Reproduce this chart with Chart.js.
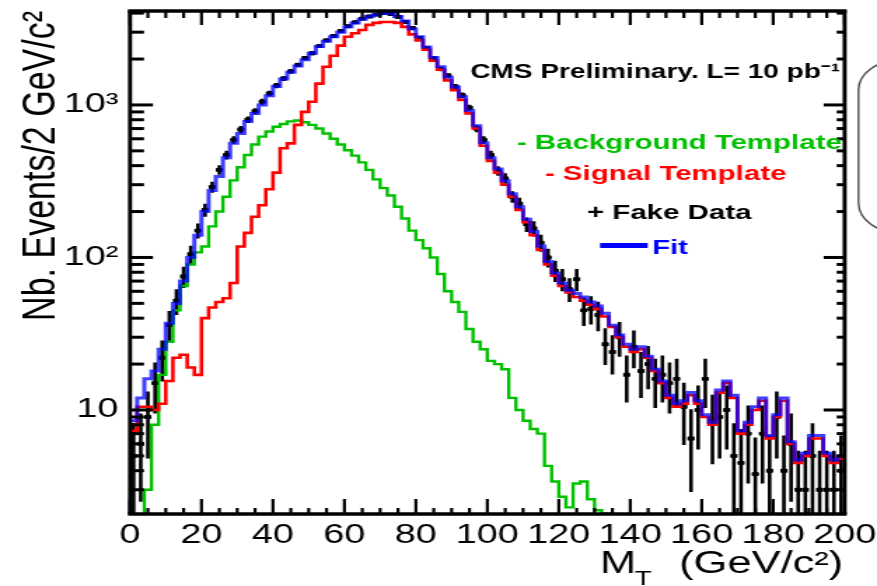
<!DOCTYPE html>
<html>
<head>
<meta charset="utf-8">
<script src="https://cdn.jsdelivr.net/npm/chart.js@4.4.0/dist/chart.umd.min.js"></script>
<style>
  html, body { margin: 0; padding: 0; background: #fff; overflow: hidden; }
  /* the original plot is stretched sideways, so draw narrow and widen */
  #wrap { width: 626px; height: 586px; transform: scaleX(1.40096); transform-origin: 0 0; }
</style>
</head>
<body>
<div id="wrap"><canvas id="mt"></canvas></div>
<script>
const binWidth = 2;
const mtRange = [0, 200];
const xTickStep = 20;
const xMinorStep = 5;
const yRange = [2.08, 4130];
const yTickText = { 10: '10', 100: '10²', 1000: '10³' };

// background template (green), one value per 2 GeV bin
const bkgTemplate = [
  1, 1, 3, 8, 17, 28, 45, 65, 90, 108,
  118, 160, 200, 250, 320, 390, 470, 550, 620, 670,
  720, 750, 780, 790, 770, 740, 700, 650, 600, 550,
  505, 465, 420, 375, 325, 285, 255, 215, 180, 150,
  130, 115, 100, 78, 60, 51, 44, 34, 28, 25,
  21, 20, 18.5, 12, 10, 8.5, 7.5, 7, 4.3, 3.4,
  2.7, 2.3, 3.3, 3.4, 2.6, 2.2, 2.1, 1, null, null,
  null, null, null, null, null, null, null, null, null, null,
  null, null, null, null, null, null, null, null, null, null,
  null, null, null, null, null, null, null, null, null, null
];

// signal template (red)
const sigTemplate = [
  7.3, 10.5, 10.5, 10, 11, 15.5, 22, 23, 19, 17,
  40, 47, 51, 54, 68, 118, 145, 185, 220, 280,
  360, 520, 560, 740, 900, 1050, 1380, 1780, 2100, 2450,
  2800, 2950, 3100, 3350, 3450, 3500, 3500, 3450, 3250, 2900,
  2650, 2300, 1950, 1700, 1450, 1250, 1080, 880, 700, 540,
  430, 360, 300, 250, 205, 170, 140, 112, 90, 76,
  65, 59, 55, 52, 49, 46, 41, 35, 30, 26,
  24, 25, 22, 18, 15, 12, 10.5, 11, 12.5, 11,
  9, 8, 13, 15, 12, 7, 8, 10, 11.5, 6.5,
  9, 11.5, 6, 4.5, 5, 6.5, 6.5, 5, 4.5, 4.8
];

// fit result (blue)
const fitValues = [
  8.5, 12, 16, 18, 25, 37, 50, 70, 100, 140,
  200, 275, 340, 450, 560, 650, 780, 880, 1000, 1150,
  1320, 1480, 1640, 1800, 1980, 2180, 2420, 2620, 2800, 3000,
  3250, 3450, 3650, 3800, 3900, 3980, 3980, 3800, 3550, 3150,
  2800, 2400, 2050, 1780, 1520, 1310, 1130, 920, 730, 565,
  450, 380, 318, 262, 215, 178, 148, 119, 94, 79,
  68, 61, 58, 55, 51, 48, 43, 36, 31, 27,
  25, 26, 22.5, 18.5, 15.5, 12.5, 11, 11.5, 13, 11.5,
  9.3, 8.3, 13.5, 15.5, 12.5, 7.3, 8.3, 10.5, 12, 6.8,
  9.3, 12, 6.2, 4.7, 5.2, 6.8, 6.8, 5.2, 4.7, 5
];

// fake data (black points) and their errors
const fakeData = [
  5, 6, 9, 15, 22, 36, 52, 75, 105, 150,
  205, 290, 375, 470, 590, 690, 800, 910, 1050, 1190,
  1340, 1490, 1660, 1830, 2030, 2180, 2430, 2650, 2830, 3060,
  3280, 3480, 3680, 3800, 3920, 4000, 3950, 3780, 3500, 3200,
  2750, 2350, 2020, 1720, 1560, 1320, 1160, 960, 700, 590,
  470, 370, 330, 250, 225, 165, 155, 125, 100, 82,
  72, 62, 72, 45, 46, 42, 27, 24, 30, 17,
  26, 18, 20, 16, 17, 15, 16, 10.5, 6.5, 10,
  16, 8.5, 9, 10, 5, 4.5, 7, 3.8, 7, 4,
  9, 4, 6, 3, 3, 5, 3, 3, 3, 4
];
const fakeErr = [
  3.2, 3.5, 4.2, 5.5, 6.6, 8.5, 10, 12, 14.5, 17,
  20, 24, 27, 31, 34, 37, 40, 43, 46, 49,
  52, 55, 58, 60, 64, 66, 70, 73, 75, 78,
  81, 83, 86, 87, 89, 89, 89, 87, 84, 80,
  74, 69, 64, 59, 56, 51, 48, 44, 37, 34,
  31, 27, 26, 22, 21, 18, 18, 16, 14, 13,
  12, 11, 12, 9.5, 9.6, 9.2, 7.3, 6.9, 7.7, 5.8,
  7.2, 6, 6.3, 5.7, 5.8, 5.5, 5.7, 4.6, 3.6, 4.5,
  5.7, 4.1, 4.2, 4.5, 3.2, 3, 3.7, 2.8, 3.7, 2.8,
  4.2, 2.8, 3.5, 2.4, 2.4, 3.2, 2.4, 2.4, 2.4, 2.8
];

const lowEdges = fakeData.map((_, i) => mtRange[0] + i * binWidth);

function histPoints(values) {
  const pts = values.map((v, i) => ({ x: lowEdges[i], y: v }));
  pts.push({ x: mtRange[1], y: values[values.length - 1] });
  return pts;
}

const FONT = "'Liberation Sans', Arial, sans-serif";
Chart.defaults.font.family = FONT;
Chart.defaults.color = '#000';

function line(ctx, x1, y1, x2, y2) {
  ctx.beginPath();
  ctx.moveTo(x1, y1);
  ctx.lineTo(x2, y2);
  ctx.stroke();
}

// error bars under the markers
const errorBars = {
  id: 'errorBars',
  beforeDatasetsDraw(chart) {
    const { ctx, chartArea: a, scales: { x, y } } = chart;
    ctx.save();
    ctx.beginPath();
    ctx.rect(a.left, a.top, a.right - a.left, a.bottom - a.top);
    ctx.clip();
    ctx.strokeStyle = '#000';
    fakeData.forEach((v, i) => {
      const lo = lowEdges[i];
      const cx = x.getPixelForValue(lo + binWidth / 2);
      const top = y.getPixelForValue(v + fakeErr[i]);
      const bot = y.getPixelForValue(Math.max(v - fakeErr[i], y.min));
      const py = y.getPixelForValue(v);
      ctx.lineWidth = 2.6;
      line(ctx, cx, top, cx, bot);
      ctx.lineWidth = 3.4;
      line(ctx, x.getPixelForValue(lo), py, x.getPixelForValue(lo + binWidth), py);
    });
    ctx.restore();
  }
};

// ROOT style frame with ticks pointing inwards
const frameTicks = {
  id: 'frameTicks',
  afterDatasetsDraw(chart) {
    const { ctx, chartArea: a, scales: { x, y } } = chart;
    ctx.save();
    ctx.strokeStyle = '#000';
    ctx.lineWidth = 2.2;
    for (let v = mtRange[0]; v <= mtRange[1]; v += xMinorStep) {
      const px = x.getPixelForValue(v);
      const major = v % xTickStep === 0;
      line(ctx, px, a.bottom, px, a.bottom - (major ? 15 : 6));
      line(ctx, px, a.top, px, a.top + (major ? 14 : 7));
    }
    ctx.lineWidth = 3;
    for (let d = 1; d <= 1000; d *= 10) {
      for (let m = 1; m <= 9; m++) {
        const v = m * d;
        if (v < y.min || v > y.max) continue;
        const py = y.getPixelForValue(v);
        line(ctx, a.left, py, a.left + (m === 1 ? 16.4 : 10), py);
        line(ctx, a.right, py, a.right - (m === 1 ? 15 : 5.7), py);
      }
    }
    ctx.lineWidth = 3.4;
    line(ctx, a.left - 1.5, a.top, a.right + 1.5, a.top);
    line(ctx, a.left - 1.5, a.bottom, a.right + 1.5, a.bottom);
    ctx.lineWidth = 2.9;
    line(ctx, a.left, a.top, a.left, a.bottom);
    line(ctx, a.right, a.top, a.right, a.bottom);
    ctx.restore();
  }
};

// texts inside the frame, x title and the clipped box at the right
const labels = {
  id: 'labels',
  afterDraw(chart) {
    const { ctx, chartArea: a } = chart;
    ctx.save();
    ctx.textBaseline = 'alphabetic';

    ctx.font = 'bold 20px ' + FONT;
    ctx.fillStyle = '#000';
    ctx.textAlign = 'right';
    ctx.fillText('CMS Preliminary. L= 10 pb⁻¹', 599.6, 78);

    ctx.font = 'bold 21px ' + FONT;
    ctx.textAlign = 'left';
    ctx.fillStyle = '#00c000';
    ctx.fillText('- Background Template', 369, 149);
    ctx.fillStyle = '#ff0000';
    ctx.fillText('- Signal Template', 389, 180);
    ctx.fillStyle = '#000';
    ctx.fillText('+ Fake Data', 419, 219);
    ctx.fillStyle = '#0000ff';
    ctx.fillRect(428.3, 243, 34, 5);
    ctx.fillText('Fit', 465.4, 254);

    // x axis title M_T (GeV/c2)
    ctx.fillStyle = '#000';
    ctx.font = '31px ' + FONT;
    ctx.fillText('M', 428.3, 573);
    const wM = ctx.measureText('M').width;
    ctx.font = '20px ' + FONT;
    ctx.fillText('T', 428.3 + wM - 1, 585);
    ctx.font = '31px ' + FONT;
    ctx.textAlign = 'right';
    ctx.fillText('(GeV/c²)', a.right - 1, 573);

    ctx.strokeStyle = '#444';
    ctx.lineWidth = 1.3;
    ctx.beginPath();
    ctx.roundRect(612.8, 60, 80, 173, 30);
    ctx.stroke();
    ctx.restore();
  }
};

const histLine = (label, values, color, width) => ({
  type: 'line',
  label,
  data: histPoints(values),
  borderColor: color,
  borderWidth: width,
  stepped: 'before',
  pointRadius: 0,
  fill: false,
  spanGaps: false
});

const canvas = document.querySelector('#mt');
new Chart(canvas.getContext('2d'), {
  type: 'line',
  data: {
    datasets: [
      histLine('Fit', fitValues, 'rgba(0, 0, 255, 0.75)', 3),
      histLine('Signal Template', sigTemplate, '#ff0000', 2.6),
      {
        type: 'scatter',
        label: 'Fake Data',
        data: fakeData.map((v, i) => ({ x: lowEdges[i] + binWidth / 2, y: v })),
        pointStyle: 'rect',
        pointRadius: 2.8,
        backgroundColor: '#000',
        borderColor: '#000',
        borderWidth: 0
      },
      histLine('Background Template', bkgTemplate, '#00c000', 2.4)
    ]
  },
  options: {
    responsive: true,
    maintainAspectRatio: false,
    animation: false,
    events: [],
    layout: { padding: { left: 0, right: 23.1, top: 11, bottom: 0 } },
    scales: {
      x: {
        type: 'linear',
        min: mtRange[0],
        max: mtRange[1],
        bounds: 'data',
        grid: { display: false, drawTicks: false },
        border: { display: false },
        ticks: {
          stepSize: xTickStep,
          autoSkip: false,
          maxRotation: 0,
          padding: 5,
          font: { size: 27 },
          color: '#000'
        },
        afterFit(scale) {
          scale.height = 72;
          scale.paddingLeft = 0;
          scale.paddingRight = 0;
        }
      },
      y: {
        type: 'logarithmic',
        min: yRange[0],
        max: yRange[1],
        bounds: 'data',
        grid: { display: false, drawTicks: false },
        border: { display: false },
        ticks: {
          autoSkip: false,
          padding: 8.3,
          font: { size: 27 },
          color: '#000',
          callback: (value) => yTickText[value] ?? ''
        },
        title: {
          display: true,
          text: 'Nb. Events/2 GeV/c²',
          align: 'end',
          color: '#000',
          font: { size: 34 },
          padding: { top: 9, bottom: 0 }
        },
        afterFit(scale) {
          scale.width = 92.8;
          scale.paddingTop = 0;
          scale.paddingBottom = 0;
        }
      }
    },
    plugins: {
      legend: { display: false },
      tooltip: { enabled: false }
    }
  },
  plugins: [errorBars, frameTicks, labels]
});
</script>
</body>
</html>
